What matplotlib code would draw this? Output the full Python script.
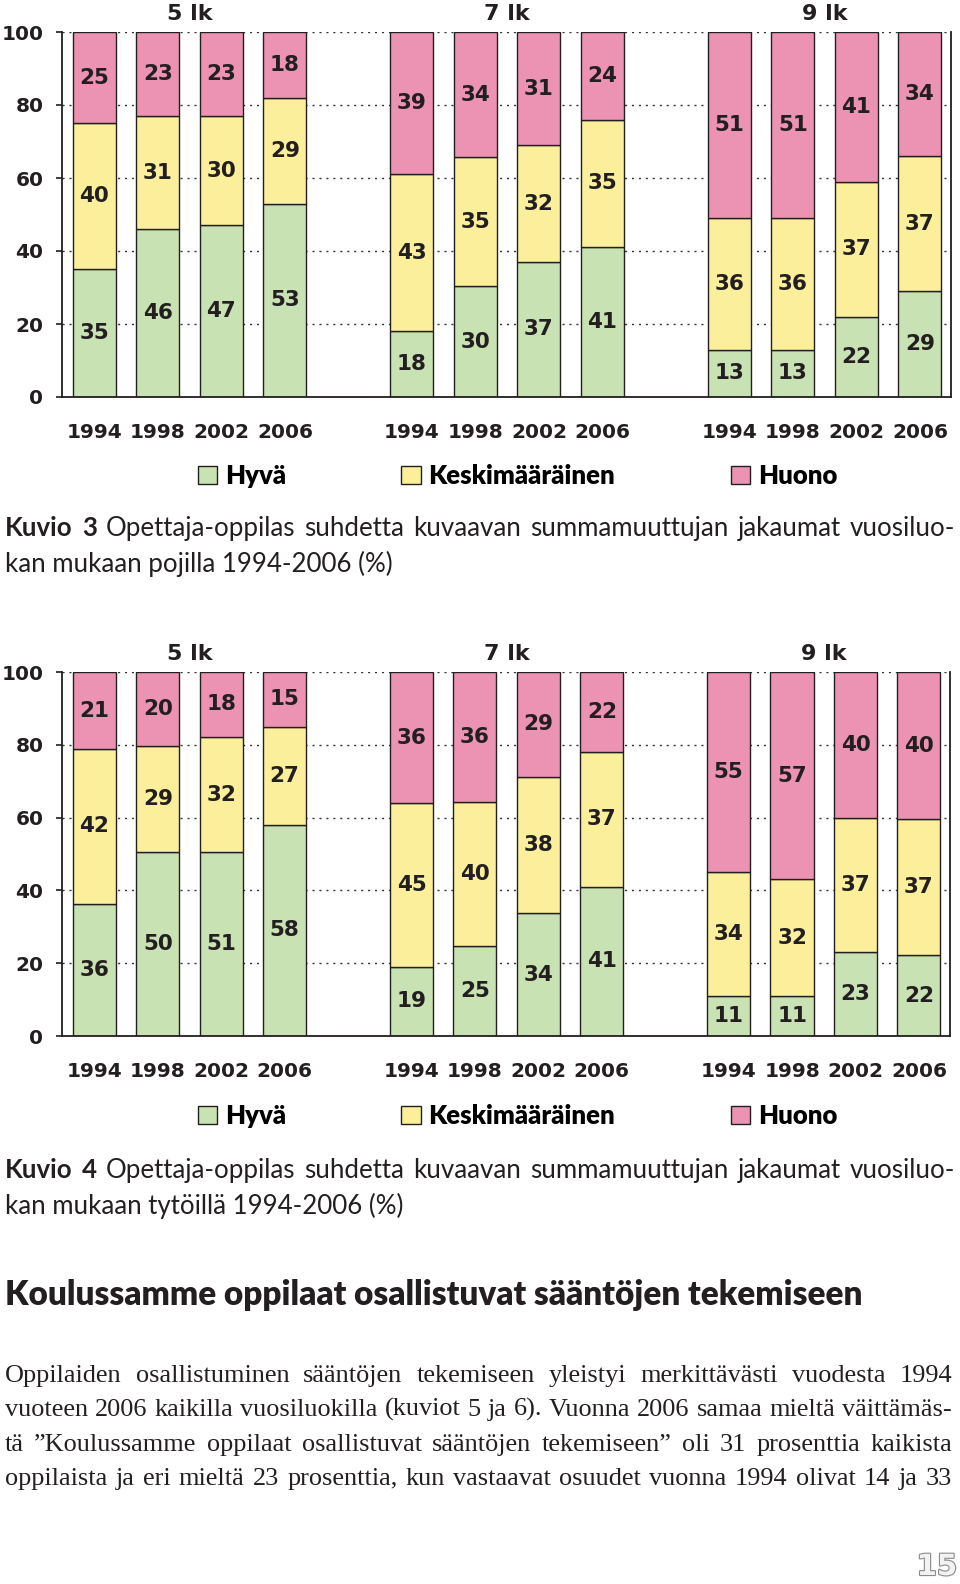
import numpy as np
import matplotlib
matplotlib.use("Agg")
import matplotlib.pyplot as plt
import matplotlib.patheffects as pe

# Luokat ja sarjat
years = ["1994", "1998", "2002", "2006"]
grades = ["5 lk", "7 lk", "9 lk"]
series = ["Hyvä", "Keskimääräinen", "Huono"]

# Kuvio 3 - pojat (%), järjestys 5 lk 1994..2006, 7 lk ..., 9 lk ...
boys_hyva = [35, 46, 47, 53, 18, 30, 37, 41, 13, 13, 22, 29]
boys_keski = [40, 31, 30, 29, 43, 35, 32, 35, 36, 36, 37, 37]
boys_huono = [25, 23, 23, 18, 39, 34, 31, 24, 51, 51, 41, 34]

# Kuvio 4 - tytöt (%)
girls_hyva = [36, 50, 51, 58, 19, 25, 34, 41, 11, 11, 23, 22]
girls_keski = [42, 29, 32, 27, 45, 40, 38, 37, 34, 32, 37, 37]
girls_huono = [21, 20, 18, 15, 36, 36, 29, 22, 55, 57, 40, 40]

colors = ["#c8e2b4", "#fbef9c", "#ec93b3"]
dark = "#231f20"

W, H = 960, 1584
fig = plt.figure(figsize=(W / 100, H / 100), dpi=100)
rend = fig.canvas.get_renderer()


def fy(ypix):
    return 1 - ypix / H


def stacked_chart(top, bottom_px, right, vals, legend_y):
    ax = fig.add_axes([62 / W, fy(bottom_px), (right - 62) / W, (bottom_px - top) / H])
    x = np.array([g * 5 + i for g in range(len(grades)) for i in range(len(years))])
    data = np.array(vals, dtype=float)
    # 100 % pinottu pylväs, kuten alkuperäisessä
    share = data / data.sum(axis=0) * 100
    base = np.zeros(len(x))
    handles = []
    for k in range(len(series)):
        b = ax.bar(x, share[k], 0.68, bottom=base, color=colors[k],
                   edgecolor=dark, linewidth=1.0, zorder=2, label=series[k])
        ax.bar_label(b, labels=[str(int(v)) for v in data[k]], label_type="center",
                     fontsize=15.5, fontweight="bold", color=dark, zorder=3)
        base += share[k]
        handles.append(b)

    ax.set_xlim(-0.51, 13.49)
    ax.set_ylim(0, 100)
    ax.set_yticks(range(0, 101, 20))
    ax.set_xticks(x)
    ax.set_xticklabels(years * len(grades))
    for lab in ax.get_xticklabels() + ax.get_yticklabels():
        lab.set_fontweight("bold")
        lab.set_fontsize(14.5)
        lab.set_color(dark)
    ax.tick_params(axis="x", length=0, pad=19)
    ax.tick_params(axis="y", length=4.5, width=1.2, color=dark, pad=9)
    ax.spines["top"].set_visible(False)
    for s in ["left", "bottom", "right"]:
        ax.spines[s].set_color(dark)
        ax.spines[s].set_linewidth(1.3)
    ax.set_axisbelow(True)
    ax.yaxis.grid(True, linestyle=(0, (1.5, 3.5)), color="#333333", linewidth=1.0)

    for g, name in enumerate(grades):
        ax.text(g * 5 + 1.5, 1 + 18 / (bottom_px - top), name,
                transform=ax.get_xaxis_transform(), ha="center", va="center",
                fontsize=16, fontweight="bold", color=dark)

    fig.legend(handles, series, loc="center", bbox_to_anchor=(0.539, fy(legend_y)),
               ncol=3, frameon=False, handlelength=0.75, handleheight=0.75,
               handletextpad=0.3, columnspacing=4.5,
               prop=dict(family="Lato", weight="heavy", size=18.5))
    return ax


def text_width(s, **kw):
    t = fig.text(0, 0, s, **kw)
    w = t.get_window_extent(rend).width
    t.remove()
    return w


def justified(base_y, words, x0=5, x1=955, styles=None, **kw):
    # sanat yksitellen peruslinjalle, välit venytetään koko rivin levyiseksi
    styles = styles or [{}] * len(words)
    ts = [fig.text(0, fy(base_y), w, va="baseline", **{**kw, **st})
          for w, st in zip(words, styles)]
    ws = [t.get_window_extent(rend).width for t in ts]
    gap = ((x1 - x0) - sum(ws)) / max(len(words) - 1, 1)
    x = x0
    for t, w in zip(ts, ws):
        t.set_x(x / W)
        x += w + gap


cap_line1 = "Opettaja-oppilas suhdetta kuvaavan summamuuttujan jakaumat vuosiluo-"
cap_size = 17 * 930 / text_width("Kuvio 3 " + cap_line1, family="Lato", fontsize=17)


def caption(y1, y2, num, line1, line2):
    words = ["Kuvio", num] + line1.split()
    styles = [dict(fontweight="bold")] * 2 + [dict(fontweight="normal")] * len(line1.split())
    justified(y1 + 9, words, styles=styles, family="Lato", fontsize=cap_size, color=dark)
    fig.text(5 / W, fy(y2 + 9), line2, va="baseline", family="Lato", fontweight="normal",
             fontsize=cap_size, color=dark)


stacked_chart(32, 397, 951, [boys_hyva, boys_keski, boys_huono], 476)
caption(527, 563, "3", cap_line1, "kan mukaan pojilla 1994-2006 (%)")

stacked_chart(672, 1036, 950, [girls_hyva, girls_keski, girls_huono], 1116)
caption(1169, 1205, "4", cap_line1, "kan mukaan tytöillä 1994-2006 (%)")

# väliotsikko, koko sovitetaan leveyteen
heading = "Koulussamme oppilaat osallistuvat sääntöjen tekemiseen"
head_size = 20 * 856 / text_width(heading, family="Lato", fontweight="heavy", fontsize=20)
fig.text(5 / W, fy(1295), heading, va="center", family="Lato", fontweight="heavy",
         fontsize=head_size, color=dark)

para = [
    "Oppilaiden osallistuminen sääntöjen tekemiseen yleistyi merkittävästi vuodesta 1994",
    "vuoteen 2006 kaikilla vuosiluokilla (kuviot 5 ja 6). Vuonna 2006 samaa mieltä väittämäs-",
    "tä ”Koulussamme oppilaat osallistuvat sääntöjen tekemiseen” oli 31 prosenttia kaikista",
    "oppilaista ja eri mieltä 23 prosenttia, kun vastaavat osuudet vuonna 1994 olivat 14 ja 33",
]
widest = max(text_width(l, family="Liberation Serif", fontsize=17) for l in para)
para_size = 17 * 940 / widest
for yp, line in zip([1374, 1408, 1443, 1477], para):
    justified(yp + 8, line.split(), x0=5, x1=952, family="Liberation Serif",
              fontsize=para_size, color=dark)

fig.text(957 / W, fy(1567), "15", ha="right", va="center", fontsize=21,
         fontweight="bold", color="#f2f2f2",
         path_effects=[pe.Stroke(linewidth=1.6, foreground="#8a8a8a"), pe.Normal()])

fig.savefig("out.png", dpi=100)
